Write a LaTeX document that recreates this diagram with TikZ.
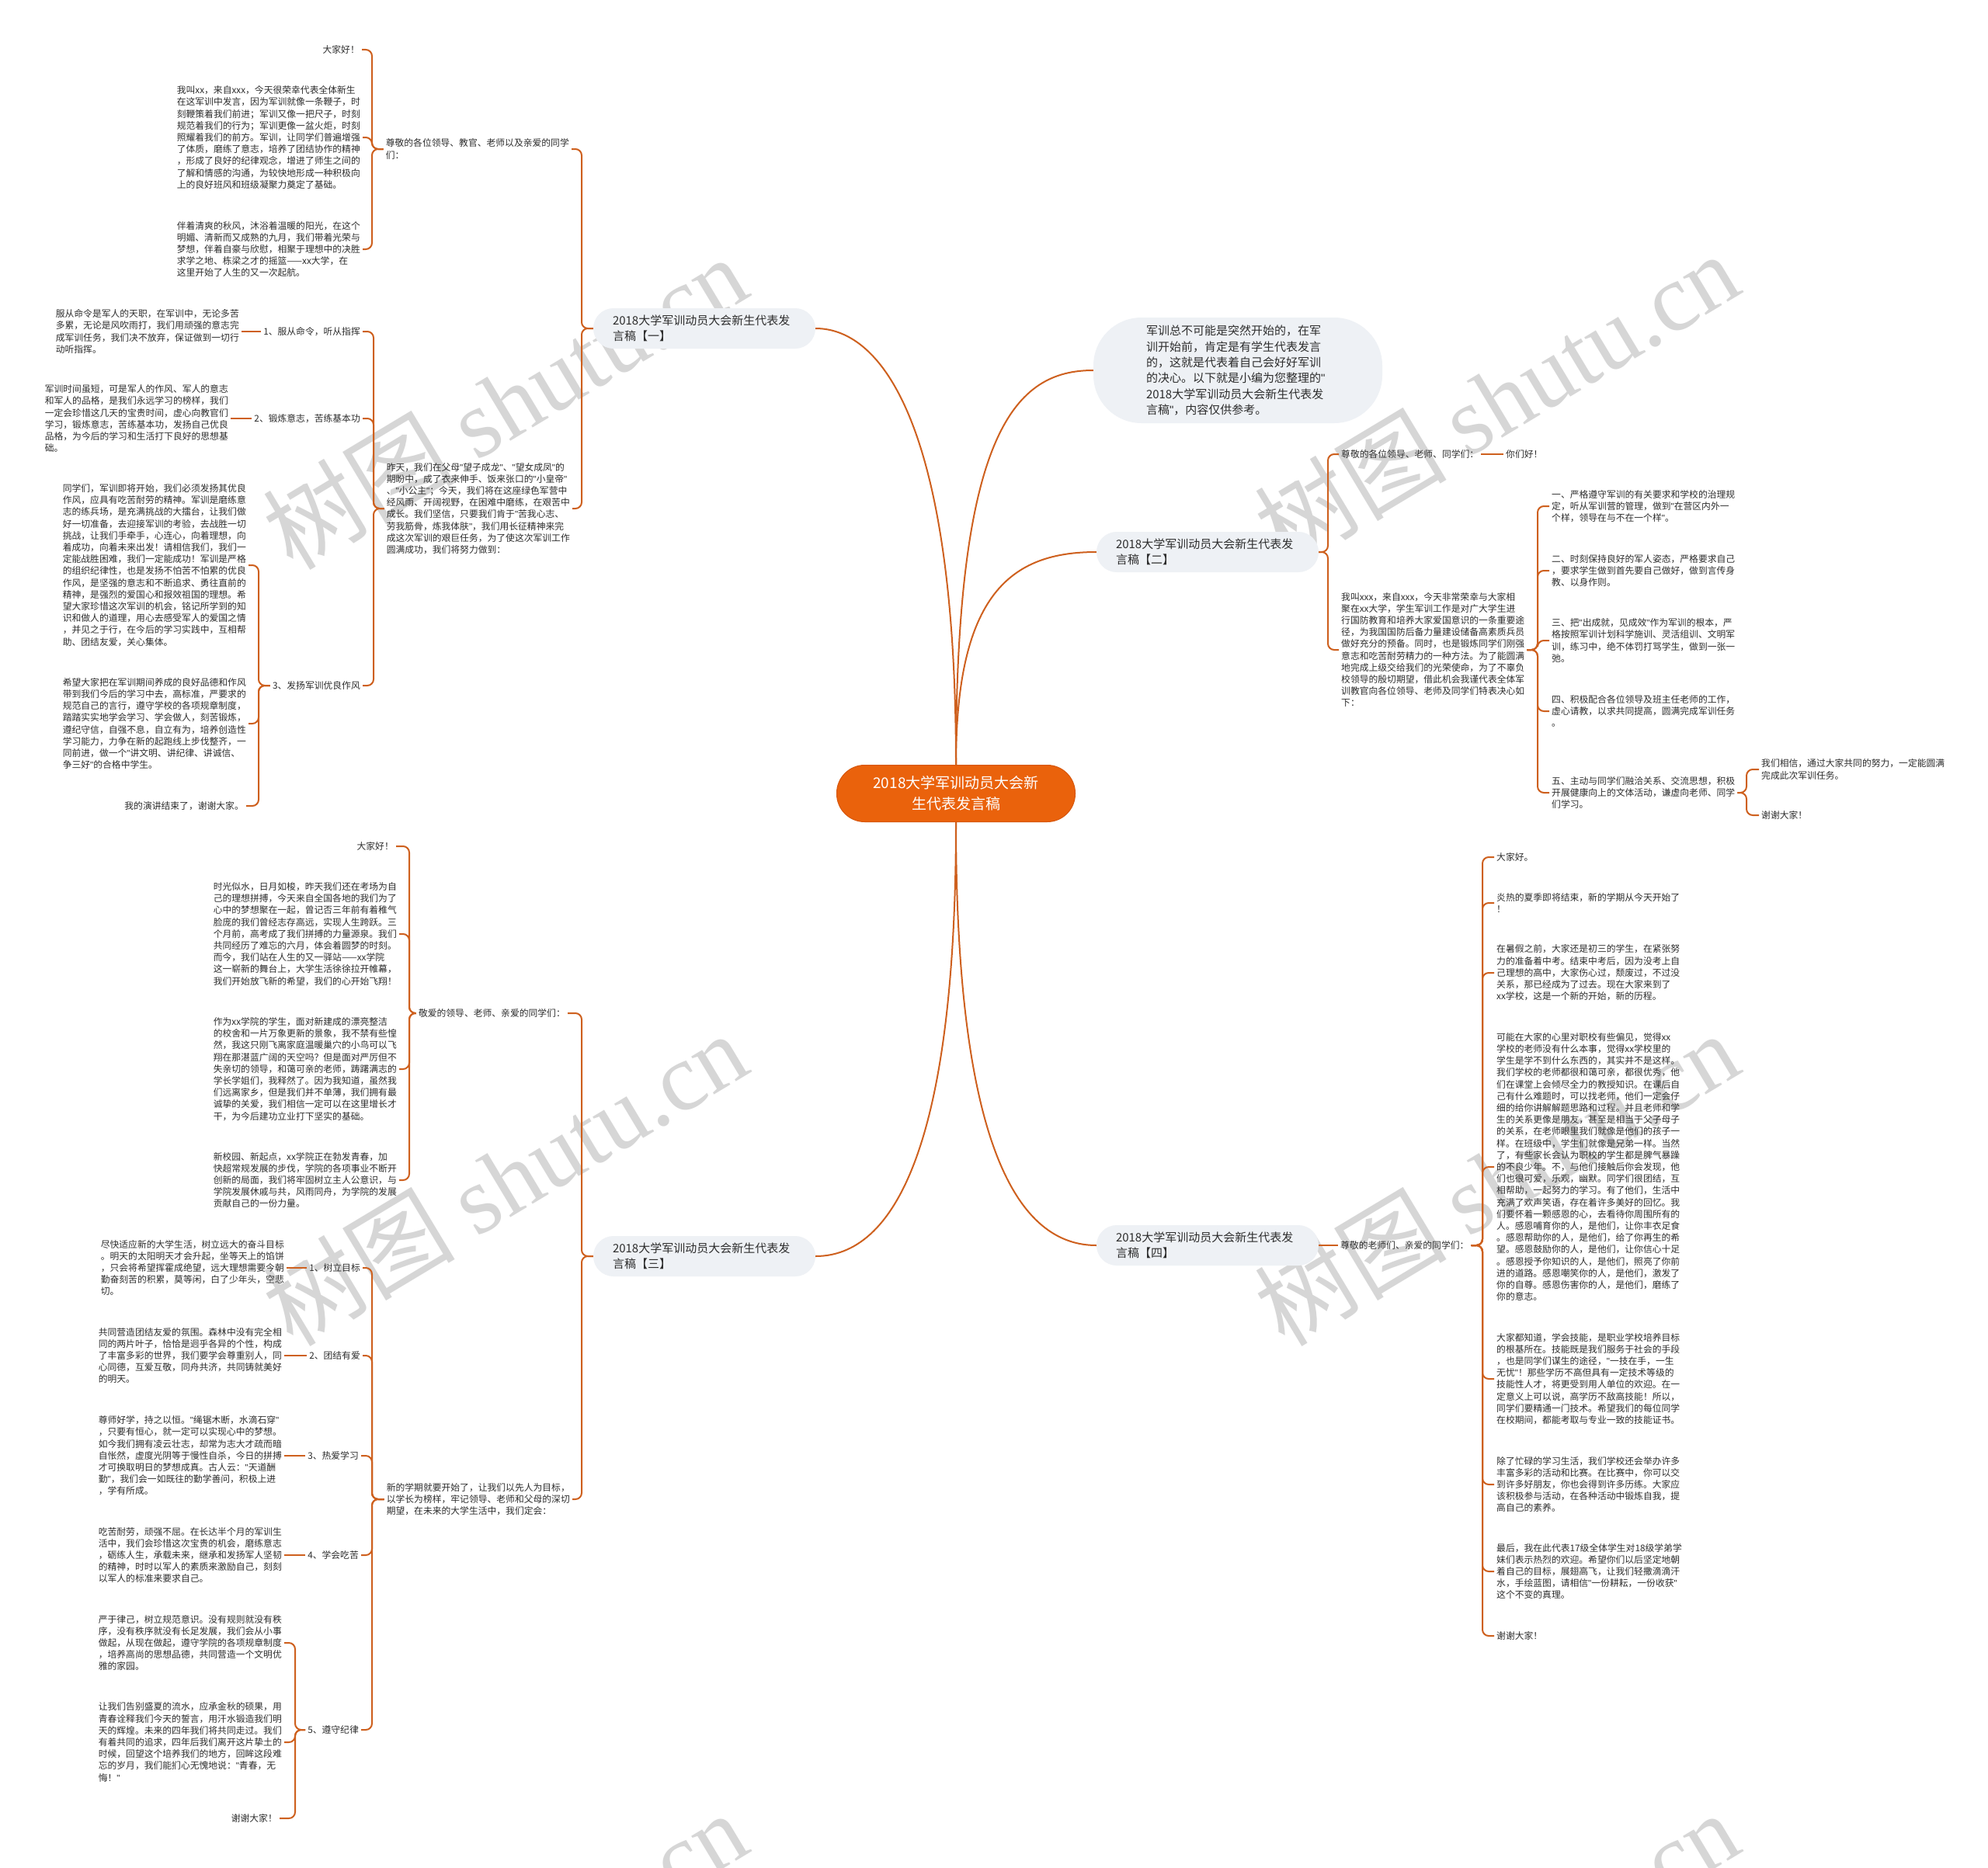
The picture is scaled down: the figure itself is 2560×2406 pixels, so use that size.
\documentclass[tikz,border=0pt]{standalone}
\usepackage{fontspec}
\setmainfont{Noto Sans CJK SC}
\newfontfamily\wmlatin{Liberation Serif}
\newfontfamily\qfont{Liberation Sans}
\begingroup\lccode`\~=`\"\lowercase{\endgroup\def~}{{\qfont\char34}}
\definecolor{linec}{RGB}{206,96,30}
\definecolor{rootc}{RGB}{234,98,12}
\definecolor{rootd}{RGB}{214,86,10}
\definecolor{boxc}{RGB}{238,241,245}
\definecolor{txtc}{RGB}{45,45,45}
\definecolor{wmc}{RGB}{214,214,214}
\newcommand\lconn[3]{\draw[br] (#1.west) -| (#2.east -| #3) -- (#2.east);}
\newcommand\rconn[3]{\draw[br] (#1.east) -| (#2.west -| #3) -- (#2.west);}
\begin{document}
\catcode`\"=\active
\begin{tikzpicture}[x=1pt,y=-1pt,
 txt/.style={font=\fontsize{11.8}{15.2}\selectfont, align=left, inner xsep=3pt, inner ysep=1pt, text=txtc},
 lbl/.style={fill=boxc, rounded corners=26pt, font=\fontsize{15}{20.5}\selectfont, align=left, text width=236pt, inner xsep=25pt, minimum height=52pt, text=txtc},
 bub/.style={fill=boxc, rounded corners=62pt, font=\fontsize{15}{20.3}\selectfont, align=left, text width=236pt, inner xsep=68pt, minimum height=136pt, text=txtc},
 rootn/.style={fill=rootc, draw=rootd, line width=1pt, rounded corners=36pt, font=\fontsize{19}{27}\selectfont, align=center, text=white, minimum width=307pt, minimum height=73pt},
 main/.style={draw=linec, line width=2pt},
 br/.style={draw=linec, line width=2pt, rounded corners=8pt},
 wm/.style={font=\fontsize{124}{124}\selectfont, text=wmc, rotate=31, inner sep=0pt}]
\useasboundingbox (0,0) rectangle (2560,2406);
\fill[white] (0,0) rectangle (2560,2406);
% watermarks
\begin{scope}
\clip (0,0) rectangle (2560,2406);
\foreach \i/\x/\y in {1/650/518,2/1927/514,3/650/1518,4/1927/1518,5/650/2522,6/1927/2522}
  \node[wm] (wm\i) at (\x,\y) {树图 {\wmlatin shutu.cn}};
\end{scope}
% spine coordinates
\coordinate (s1) at (749,0);
\coordinate (sA) at (479,0);
\coordinate (sB) at (481,0);
\coordinate (sC) at (333,0);
\coordinate (s2) at (1710,0);
\coordinate (s2b) at (1980,0);
\coordinate (s2c) at (2249,0);
\coordinate (s3) at (749,0);
\coordinate (s3a) at (527,0);
\coordinate (s3b) at (479,0);
\coordinate (s3c) at (380,0);
\coordinate (s4) at (1909,0);
% root and main branches
\node[rootn] (root) at (1231,1022) {2018大学军训动员大会新\\生代表发言稿};
\node[lbl] (B1) at (907,423) {2018大学军训动员大会新生代表发\\言稿【一】};
\node[bub] (intro) at (1594,477) {军训总不可能是突然开始的，在军\\训开始前，肯定是有学生代表发言\\的，这就是代表着自己会好好军训\\的决心。以下就是小编为您整理的"\\2018大学军训动员大会新生代表发\\言稿"，内容仅供参考。};
\node[lbl] (B2) at (1555,711) {2018大学军训动员大会新生代表发\\言稿【二】};
\node[lbl] (B3) at (907,1618) {2018大学军训动员大会新生代表发\\言稿【三】};
\node[lbl] (B4) at (1555,1604) {2018大学军训动员大会新生代表发\\言稿【四】};
\draw[main] (B1.east) .. controls +(90,0) and +(0,-425) .. (root.north);
\draw[main] (intro.west) .. controls +(-100,0) and +(0,-430) .. (root.north);
\draw[main] (B2.west) .. controls +(-110,0) and +(0,-220) .. (root.north);
\draw[main] (B3.east) .. controls +(100,0) and +(0,420) .. (root.south);
\draw[main] (B4.west) .. controls +(-100,0) and +(0,420) .. (root.south);
% ---------- branch 1 ----------
\node[txt,anchor=east] (na) at (736,192) {尊敬的各位领导、教官、老师以及亲爱的同学\\们：};
\node[txt,anchor=east] (a1) at (466,64) {大家好！};
\node[txt,anchor=east] (a2) at (467,177) {我叫xx，来自xxx，今天很荣幸代表全体新生\\在这军训中发言，因为军训就像一条鞭子，时\\刻鞭策着我们前进；军训又像一把尺子，时刻\\规范着我们的行为；军训更像一盆火炬，时刻\\照耀着我们的前方。军训，让同学们普遍增强\\了体质，磨练了意志，培养了团结协作的精神\\，形成了良好的纪律观念，增进了师生之间的\\了解和情感的沟通，为较快地形成一种积极向\\上的良好班风和班级凝聚力奠定了基础。};
\node[txt,anchor=east] (a3) at (467,321) {伴着清爽的秋风，沐浴着温暖的阳光，在这个\\明媚、清新而又成熟的九月，我们带着光荣与\\梦想，伴着自豪与欣慰，相聚于理想中的决胜\\求学之地、栋梁之才的摇篮——xx大学，在\\这里开始了人生的又一次起航。};
\node[txt,anchor=east] (nb) at (737,655) {昨天，我们在父母"望子成龙"、"望女成凤"的\\期盼中，成了衣来伸手、饭来张口的"小皇帝"\\、"小公主"；今天，我们将在这座绿色军营中\\经风雨、开阔视野，在困难中磨练，在艰苦中\\成长。我们坚信，只要我们肯于"苦我心志、\\劳我筋骨，炼我体肤"，我们用长征精神来完\\成这次军训的艰巨任务，为了使这次军训工作\\圆满成功，我们将努力做到：};
\node[txt,anchor=east] (c1) at (467,427) {1、服从命令，听从指挥};
\node[txt,anchor=east] (c2) at (467,539) {2、锻炼意志，苦练基本功};
\node[txt,anchor=east] (c3) at (467,883) {3、发扬军训优良作风};
\node[txt,anchor=east] (d1) at (311,427) {服从命令是军人的天职，在军训中，无论多苦\\多累，无论是风吹雨打，我们用顽强的意志完\\成军训任务，我们决不放弃，保证做到一切行\\动听指挥。};
\node[txt,anchor=east] (d2) at (297,539) {军训时间虽短，可是军人的作风、军人的意志\\和军人的品格，是我们永远学习的榜样，我们\\一定会珍惜这几天的宝贵时间，虚心向教官们\\学习，锻炼意志，苦练基本功，发扬自己优良\\品格，为今后的学习和生活打下良好的思想基\\础。};
\node[txt,anchor=east] (e1) at (320,728) {同学们，军训即将开始，我们必须发扬其优良\\作风，应具有吃苦耐劳的精神。军训是磨练意\\志的练兵场，是充满挑战的大擂台，让我们做\\好一切准备，去迎接军训的考验，去战胜一切\\挑战，让我们手牵手，心连心，向着理想，向\\着成功，向着未来出发！请相信我们，我们一\\定能战胜困难，我们一定能成功！军训是严格\\的组织纪律性，也是发扬不怕苦不怕累的优良\\作风，是坚强的意志和不断追求、勇往直前的\\精神，是强烈的爱国心和报效祖国的理想。希\\望大家珍惜这次军训的机会，铭记所学到的知\\识和做人的道理，用心去感受军人的爱国之情\\，并见之于行，在今后的学习实践中，互相帮\\助、团结友爱，关心集体。};
\node[txt,anchor=east] (e2) at (320,932) {希望大家把在军训期间养成的良好品德和作风\\带到我们今后的学习中去，高标准，严要求的\\规范自己的言行，遵守学校的各项规章制度，\\踏踏实实地学会学习、学会做人，刻苦锻炼，\\遵纪守信，自强不息，自立有为，培养创造性\\学习能力，力争在新的起跑线上步伐整齐，一\\同前进，做一个"讲文明、讲纪律、讲诚信、\\争三好"的合格中学生。};
\node[txt,anchor=east] (e3) at (317,1038) {我的演讲结束了，谢谢大家。};
\lconn{B1}{na}{s1}
\lconn{B1}{nb}{s1}
\lconn{na}{a1}{sA}
\lconn{na}{a2}{sA}
\lconn{na}{a3}{sA}
\lconn{nb}{c1}{sB}
\lconn{nb}{c2}{sB}
\lconn{nb}{c3}{sB}
\draw[br] (c1.west) -- (d1.east);
\draw[br] (c2.west) -- (d2.east);
\lconn{c3}{e1}{sC}
\lconn{c3}{e2}{sC}
\lconn{c3}{e3}{sC}
% ---------- branch 2 ----------
\node[txt,anchor=west] (f1) at (1724,585) {尊敬的各位领导、老师、同学们：};
\node[txt,anchor=west] (f1a) at (1936,585) {你们好！};
\node[txt,anchor=west] (f2) at (1724,837) {我叫xxx，来自xxx，今天非常荣幸与大家相\\聚在xx大学，学生军训工作是对广大学生进\\行国防教育和培养大家爱国意识的一条重要途\\径，为我国国防后备力量建设储备高素质兵员\\做好充分的预备。同时，也是锻炼同学们刚强\\意志和吃苦耐劳精力的一种方法。为了能圆满\\地完成上级交给我们的光荣使命，为了不辜负\\校领导的殷切期望，借此机会我谨代表全体军\\训教官向各位领导、老师及同学们特表决心如\\下：};
\node[txt,anchor=west] (g1) at (1995,652) {一、严格遵守军训的有关要求和学校的治理规\\定，听从军训营的管理，做到"在营区内外一\\个样，领导在与不在一个样"。};
\node[txt,anchor=west] (g2) at (1995,735) {二、时刻保持良好的军人姿态，严格要求自己\\，要求学生做到首先要自己做好，做到言传身\\教、以身作则。};
\node[txt,anchor=west] (g3) at (1995,825) {三、把"出成就，见成效"作为军训的根本，严\\格按照军训计划科学施训、灵活组训、文明军\\训，练习中，绝不体罚打骂学生，做到一张一\\弛。};
\node[txt,anchor=west] (g4) at (1995,916) {四、积极配合各位领导及班主任老师的工作，\\虚心请教，以求共同提高，圆满完成军训任务\\。};
\node[txt,anchor=west] (g5) at (1995,1021) {五、主动与同学们融洽关系、交流思想，积极\\开展健康向上的文体活动，谦虚向老师、同学\\们学习。};
\node[txt,anchor=west] (h1) at (2265,991) {我们相信，通过大家共同的努力，一定能圆满\\完成此次军训任务。};
\node[txt,anchor=west] (h2) at (2265,1050) {谢谢大家！};
\rconn{B2}{f1}{s2}
\rconn{B2}{f2}{s2}
\draw[br] (f1.east) -- (f1a.west);
\rconn{f2}{g1}{s2b}
\rconn{f2}{g2}{s2b}
\rconn{f2}{g3}{s2b}
\rconn{f2}{g4}{s2b}
\rconn{f2}{g5}{s2b}
\rconn{g5}{h1}{s2c}
\rconn{g5}{h2}{s2c}
% ---------- branch 3 ----------
\node[txt,anchor=east] (na3) at (731,1305) {敬爱的领导、老师、亲爱的同学们：};
\node[txt,anchor=east] (nb3) at (737,1931) {新的学期就要开始了，让我们以先人为目标，\\以学长为榜样，牢记领导、老师和父母的深切\\期望，在未来的大学生活中，我们定会：};
\node[txt,anchor=east] (i1) at (510,1090) {大家好！};
\node[txt,anchor=east] (i2) at (514,1203) {时光似水，日月如梭，昨天我们还在考场为自\\己的理想拼搏，今天来自全国各地的我们为了\\心中的梦想聚在一起，曾记否三年前有着稚气\\脸庞的我们曾经志存高远，实现人生跨跃。三\\个月前，高考成了我们拼搏的力量源泉。我们\\共同经历了难忘的六月，体会着圆梦的时刻。\\而今，我们站在人生的又一驿站——xx学院\\这一崭新的舞台上，大学生活徐徐拉开帷幕，\\我们开始放飞新的希望，我们的心开始飞翔！};
\node[txt,anchor=east] (i3) at (514,1377) {作为xx学院的学生，面对新建成的漂亮整洁\\的校舍和一片万象更新的景象，我不禁有些惶\\然，我这只刚飞离家庭温暖巢穴的小鸟可以飞\\翔在那湛蓝广阔的天空吗？但是面对严厉但不\\失亲切的领导，和蔼可亲的老师，踌躇满志的\\学长学姐们，我释然了。因为我知道，虽然我\\们远离家乡，但是我们并不单薄，我们拥有最\\诚挚的关爱，我们相信一定可以在这里增长才\\干，为今后建功立业打下坚实的基础。};
\node[txt,anchor=east] (i4) at (514,1520) {新校园、新起点，xx学院正在勃发青春，加\\快超常规发展的步伐，学院的各项事业不断开\\创新的局面，我们将牢固树立主人公意识，与\\学院发展休戚与共，风雨同舟，为学院的发展\\贡献自己的一份力量。};
\node[txt,anchor=east] (j1) at (467,1633) {1、树立目标};
\node[txt,anchor=east] (j2) at (467,1746) {2、团结有爱};
\node[txt,anchor=east] (j3) at (465,1875) {3、热爱学习};
\node[txt,anchor=east] (j4) at (465,2003) {4、学会吃苦};
\node[txt,anchor=east] (j5) at (465,2228) {5、遵守纪律};
\node[txt,anchor=east] (k1) at (369,1633) {尽快适应新的大学生活，树立远大的奋斗目标\\。明天的太阳明天才会升起，坐等天上的馅饼\\，只会将希望挥霍成绝望，远大理想需要今朝\\勤奋刻苦的积累，莫等闲，白了少年头，空悲\\切。};
\node[txt,anchor=east] (k2) at (366,1746) {共同营造团结友爱的氛围。森林中没有完全相\\同的两片叶子，恰恰是迥乎各异的个性，构成\\了丰富多彩的世界，我们要学会尊重别人，同\\心同德，互爱互敬，同舟共济，共同铸就美好\\的明天。};
\node[txt,anchor=east] (k3) at (366,1875) {尊师好学，持之以恒。"绳锯木断，水滴石穿"\\，只要有恒心，就一定可以实现心中的梦想。\\如今我们拥有凌云壮志，却常为志大才疏而暗\\自怅然，虚度光阴等于慢性自杀，今日的拼搏\\才可换取明日的梦想成真。古人云："天道酬\\勤"，我们会一如既往的勤学善问，积极上进\\，学有所成。};
\node[txt,anchor=east] (k4) at (366,2003) {吃苦耐劳，顽强不屈。在长达半个月的军训生\\活中，我们会珍惜这次宝贵的机会，磨练意志\\，砺练人生，承载未来，继承和发扬军人坚韧\\的精神，时时以军人的素质来激励自己，刻刻\\以军人的标准来要求自己。};
\node[txt,anchor=east] (l1) at (366,2116) {严于律己，树立规范意识。没有规则就没有秩\\序，没有秩序就没有长足发展，我们会从小事\\做起，从现在做起，遵守学院的各项规章制度\\，培养高尚的思想品德，共同营造一个文明优\\雅的家园。};
\node[txt,anchor=east] (l2) at (366,2244) {让我们告别盛夏的流水，应承金秋的硕果，用\\青春诠释我们今天的誓言，用汗水锻造我们明\\天的辉煌。未来的四年我们将共同走过。我们\\有着共同的追求，四年后我们离开这片挚土的\\时候，回望这个培养我们的地方，回眸这段难\\忘的岁月，我们能扪心无愧地说："青春，无\\悔！"};
\node[txt,anchor=east] (l3) at (360,2342) {谢谢大家！};
\lconn{B3}{na3}{s3}
\lconn{B3}{nb3}{s3}
\lconn{na3}{i1}{s3a}
\lconn{na3}{i2}{s3a}
\lconn{na3}{i3}{s3a}
\lconn{na3}{i4}{s3a}
\lconn{nb3}{j1}{s3b}
\lconn{nb3}{j2}{s3b}
\lconn{nb3}{j3}{s3b}
\lconn{nb3}{j4}{s3b}
\lconn{nb3}{j5}{s3b}
\draw[br] (j1.west) -- (k1.east);
\draw[br] (j2.west) -- (k2.east);
\draw[br] (j3.west) -- (k3.east);
\draw[br] (j4.west) -- (k4.east);
\lconn{j5}{l1}{s3c}
\lconn{j5}{l2}{s3c}
\lconn{j5}{l3}{s3c}
% ---------- branch 4 ----------
\node[txt,anchor=west] (m) at (1723,1604) {尊敬的老师们、亲爱的同学们：};
\node[txt,anchor=west] (n1) at (1924,1104) {大家好。};
\node[txt,anchor=west] (n2) at (1924,1163) {炎热的夏季即将结束，新的学期从今天开始了\\！};
\node[txt,anchor=west] (n3) at (1924,1253) {在暑假之前，大家还是初三的学生，在紧张努\\力的准备着中考。结束中考后，因为没考上自\\己理想的高中，大家伤心过，颓废过，不过没\\关系，那已经成为了过去。现在大家来到了\\xx学校，这是一个新的开始，新的历程。};
\node[txt,anchor=west] (n4) at (1924,1503) {可能在大家的心里对职校有些偏见，觉得xx\\学校的老师没有什么本事，觉得xx学校里的\\学生是学不到什么东西的，其实并不是这样。\\我们学校的老师都很和蔼可亲，都很优秀，他\\们在课堂上会倾尽全力的教授知识。在课后自\\己有什么难题时，可以找老师，他们一定会仔\\细的给你讲解解题思路和过程。并且老师和学\\生的关系更像是朋友，甚至是相当于父子母子\\的关系，在老师眼里我们就像是他们的孩子一\\样。在班级中，学生们就像是兄弟一样。当然\\了，有些家长会认为职校的学生都是脾气暴躁\\的不良少年。不，与他们接触后你会发现，他\\们也很可爱，乐观，幽默。同学们很团结，互\\相帮助，一起努力的学习。有了他们，生活中\\充满了欢声笑语，存在着许多美好的回忆。我\\们要怀着一颗感恩的心，去看待你周围所有的\\人。感恩哺育你的人，是他们，让你丰衣足食\\。感恩帮助你的人，是他们，给了你再生的希\\望。感恩鼓励你的人，是他们，让你信心十足\\。感恩授予你知识的人，是他们，照亮了你前\\进的道路。感恩嘲笑你的人，是他们，激发了\\你的自尊。感恩伤害你的人，是他们，磨练了\\你的意志。};
\node[txt,anchor=west] (n5) at (1924,1776) {大家都知道，学会技能，是职业学校培养目标\\的根基所在。技能既是我们服务于社会的手段\\，也是同学们谋生的途径，"一技在手，一生\\无忧"！那些学历不高但具有一定技术等级的\\技能性人才，将更受到用人单位的欢迎。在一\\定意义上可以说，高学历不敌高技能！所以，\\同学们要精通一门技术。希望我们的每位同学\\在校期间，都能考取与专业一致的技能证书。};
\node[txt,anchor=west] (n6) at (1924,1912) {除了忙碌的学习生活，我们学校还会举办许多\\丰富多彩的活动和比赛。在比赛中，你可以交\\到许多好朋友，你也会得到许多历练。大家应\\该积极参与活动，在各种活动中锻炼自我，提\\高自己的素养。};
\node[txt,anchor=west] (n7) at (1924,2024) {最后，我在此代表17级全体学生对18级学弟学\\妹们表示热烈的欢迎。希望你们以后坚定地朝\\着自己的目标，展翅高飞，让我们轻撒滴滴汗\\水，手绘蓝图，请相信"一份耕耘，一份收获"\\这个不变的真理。};
\node[txt,anchor=west] (n8) at (1924,2107) {谢谢大家！};
\draw[br] (B4.east) -- (m.west);
\rconn{m}{n1}{s4}
\rconn{m}{n2}{s4}
\rconn{m}{n3}{s4}
\rconn{m}{n4}{s4}
\rconn{m}{n5}{s4}
\rconn{m}{n6}{s4}
\rconn{m}{n7}{s4}
\rconn{m}{n8}{s4}
\end{tikzpicture}
\end{document}
